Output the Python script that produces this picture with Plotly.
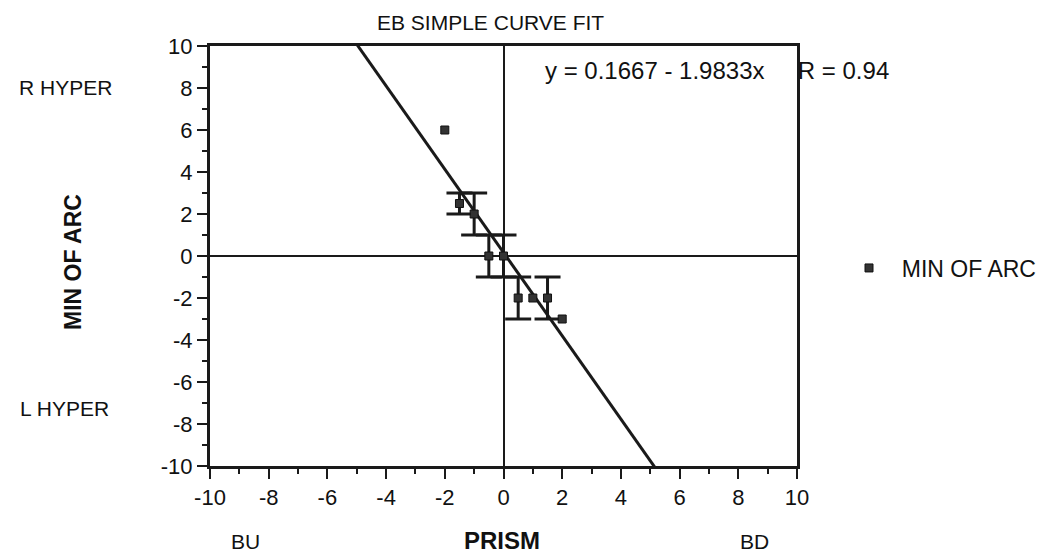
import numpy as np
import plotly.graph_objects as go

# ---- data ----
prism = [-2, -1.5, -1, -0.5, 0, 0.5, 1, 1.5, 2]
min_of_arc = [6, 2.5, 2, 0, 0, -2, -2, -2, -3]
err = [0, 0.5, 1, 1, 1, 1, 0, 1, 0]

x_ticks = [-10, -8, -6, -4, -2, 0, 2, 4, 6, 8, 10]
x_tick_labels = ["-10", "-8", "-6", "-4", "-2", "0", "2", "4", "6", "8", "10"]
y_ticks = [-10, -8, -6, -4, -2, 0, 2, 4, 6, 8, 10]
y_tick_labels = ["-10", "-8", "-6", "-4", "-2", "0", "2", "4", "6", "8", "10"]

series_name = "MIN OF ARC"
title_text = "EB SIMPLE CURVE FIT"

# ---- linear fit ----
slope, intercept = np.polyfit(prism, min_of_arc, 1)
r_val = abs(np.corrcoef(prism, min_of_arc)[0, 1])
fit_x = np.array([-10.0, 10.0])
fit_y = intercept + slope * fit_x
sign = "-" if slope < 0 else "+"
NB = "\u00a0"
eq_text = f"y = {intercept:.4f} {sign} {abs(slope):.4f}x" + NB * 5 + f"R = {r_val:.2f}"

# error bars only where an error exists (no zero-length caps)
eb_idx = [i for i, e in enumerate(err) if e > 0]
eb_x = [prism[i] for i in eb_idx]
eb_y = [min_of_arc[i] for i in eb_idx]
eb_e = [err[i] for i in eb_idx]

FONT = "Liberation Sans, Arial, Helvetica, sans-serif"
INK = "#1a1a1a"

# page body has an 8px offset; work in reference-pixel coordinates
OFF = 8
L, T, PW, PH = 210 - OFF, 46 - OFF, 587, 420
W, H = 1050 - OFF, 559 - OFF

fig = go.Figure()

fig.add_trace(go.Scatter(
    x=fit_x, y=fit_y, mode="lines",
    line=dict(color=INK, width=3),
    showlegend=False, hoverinfo="skip",
))

fig.add_trace(go.Scatter(
    x=eb_x, y=eb_y, mode="markers",
    marker=dict(size=1, color="rgba(0,0,0,0)"),
    error_y=dict(type="data", array=eb_e, visible=True,
                 color=INK, thickness=3, width=13),
    showlegend=False, hoverinfo="skip",
))

fig.add_trace(go.Scatter(
    x=prism, y=min_of_arc, mode="markers",
    name=NB * 2 + series_name,
    marker=dict(symbol="square", size=8, color="#333333",
                line=dict(color="#111111", width=1)),
))

fig.update_layout(
    width=W, height=H,
    margin=dict(l=L, r=W - L - PW, t=T, b=H - T - PH, autoexpand=False),
    paper_bgcolor="white", plot_bgcolor="white",
    font=dict(family=FONT, size=21, color="#111111"),
    showlegend=True,
    legend=dict(x=(849 - 210) / PW, y=(466 - 268) / PH,
                xanchor="left", yanchor="middle",
                font=dict(size=23), bgcolor="rgba(0,0,0,0)"),
)

axis_common = dict(
    range=[-10, 10], tickmode="array",
    showgrid=False, zeroline=True, zerolinecolor=INK, zerolinewidth=2,
    showline=True, linecolor=INK, linewidth=3, mirror=True,
    ticks="outside", ticklen=10, tickwidth=2, tickcolor=INK,
    minor=dict(dtick=1, ticks="outside", ticklen=5, tickwidth=2, tickcolor=INK, showgrid=False),
    tickfont=dict(size=22), automargin=False,
)
fig.update_xaxes(tickvals=x_ticks, ticktext=x_tick_labels, **axis_common)
fig.update_yaxes(tickvals=y_ticks, ticktext=y_tick_labels, **axis_common)

def px_x(p):
    return (p - 210) / PW

def px_y(p):
    return (466 - p) / PH

annos = [
    dict(text=title_text, x=px_x(490), y=px_y(23), xanchor="center", yanchor="middle",
         font=dict(size=21)),
    dict(text=eq_text, x=px_x(543), y=px_y(70), xanchor="left", yanchor="middle",
         font=dict(size=24)),
    dict(text="R HYPER", x=px_x(65), y=px_y(87), xanchor="center", yanchor="middle"),
    dict(text="L HYPER", x=px_x(64), y=px_y(408), xanchor="center", yanchor="middle"),
    dict(text="<b>MIN OF ARC</b>", x=px_x(73), y=px_y(262), xanchor="center", yanchor="middle",
         textangle=-90, font=dict(size=23)),
    dict(text="BU", x=px_x(245), y=px_y(541), xanchor="center", yanchor="middle"),
    dict(text="<b>PRISM</b>", x=px_x(502), y=px_y(540), xanchor="center", yanchor="middle",
         font=dict(size=24)),
    dict(text="BD", x=px_x(754), y=px_y(541), xanchor="center", yanchor="middle"),
]
for a in annos:
    a.update(xref="paper", yref="paper", showarrow=False)
    fig.add_annotation(**a)

fig.write_html("out.html")
